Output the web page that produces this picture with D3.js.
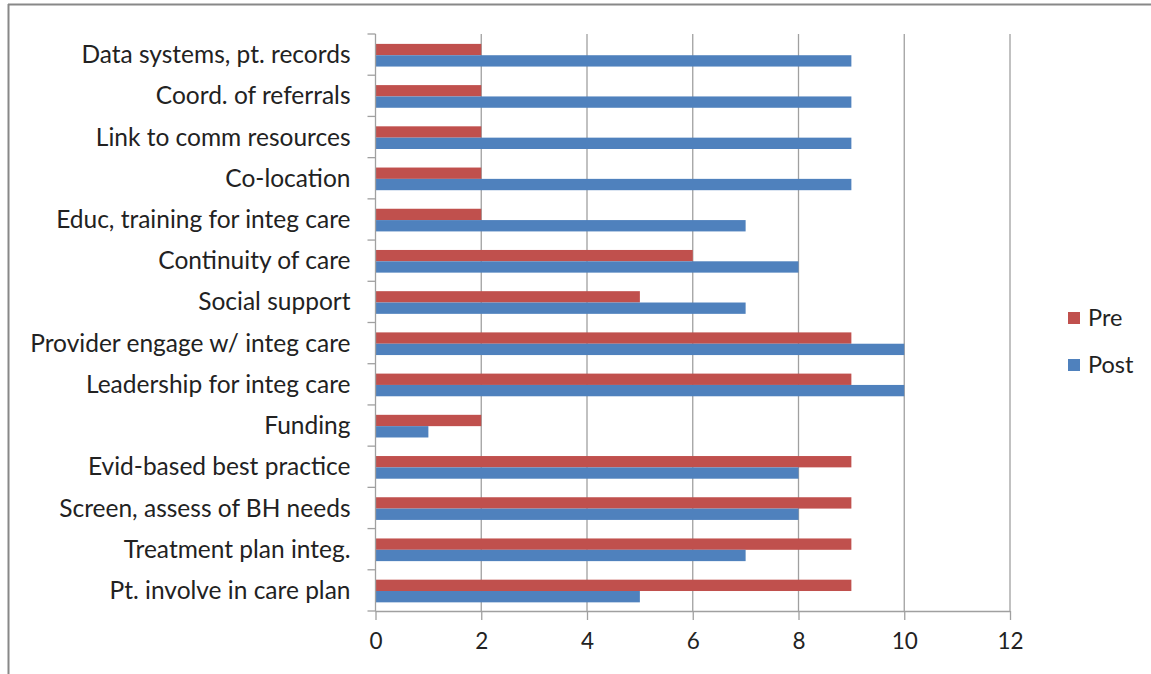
<!DOCTYPE html>
<html><head><meta charset="utf-8">
<script src="https://cdn.jsdelivr.net/npm/d3@7"></script>
<style>body{margin:0;background:#fff}svg{display:block}</style>
</head><body>
<svg id="c" width="1151" height="674"></svg>
<script>
const categories = ["Data systems, pt. records","Coord. of referrals","Link to comm resources","Co-location","Educ, training for integ care","Continuity of care","Social support","Provider engage w/ integ care","Leadership for integ care","Funding","Evid-based best practice","Screen, assess of BH needs","Treatment plan integ.","Pt. involve in care plan"];
const preValues  = [2,2,2,2,2,6,5,9,9,2,9,9,9,9];
const postValues = [9,9,9,9,7,8,7,10,10,1,8,8,7,5];
const seriesNames = ["Pre","Post"];
const xTicks = [0,2,4,6,8,10,12];
const colors = {Pre:"#C0504D", Post:"#4F81BD"};
const font = "Lato, 'Open Sans', sans-serif";

(function(){
const svg = d3.select("#c");
svg.append("line").attr("x1",8).attr("x2",1151).attr("y1",4.5).attr("y2",4.5).attr("stroke","#888").attr("stroke-width",2);
svg.append("line").attr("x1",8.5).attr("x2",8.5).attr("y1",4).attr("y2",674).attr("stroke","#888").attr("stroke-width",2);

const pL=375.5, pR=1010, pT=34, pB=611;
const x = d3.scaleLinear().domain([0,12]).range([pL,pR]);
const y = d3.scaleBand().domain(categories).range([pT,pB]);
const inner = d3.scaleBand().domain(seriesNames).range([y.bandwidth()*0.24, y.bandwidth()*0.79]);

svg.append("g").selectAll("line").data(xTicks.slice(1)).join("line")
  .attr("x1",d=>x(d)).attr("x2",d=>x(d)).attr("y1",pT).attr("y2",pB)
  .attr("stroke","#a0a0a0").attr("stroke-width",1.3);

const data = categories.map((c,i)=>({c, Pre:preValues[i], Post:postValues[i]}));
const g = svg.append("g");
seriesNames.forEach(s=>{
  g.selectAll("rect."+s).data(data).join("rect").attr("class",s)
    .attr("x",x(0)).attr("y",d=>y(d.c)+inner(s))
    .attr("width",d=>x(d[s])-x(0)).attr("height",inner.bandwidth())
    .attr("fill",colors[s]);
});

const xa = svg.append("g").attr("transform",`translate(0,${pB})`)
  .call(d3.axisBottom(x).tickValues(xTicks).tickSize(9).tickPadding(13));
xa.select(".domain").attr("stroke","#a0a0a0").attr("stroke-width",1.3).attr("d",`M${pL},0.5H${pR}`);
xa.selectAll(".tick line").attr("stroke","#a0a0a0").attr("stroke-width",1.3);
xa.selectAll("text").attr("font-family",font).attr("font-size",22.5).attr("fill","#222");

const ya = svg.append("g").attr("transform",`translate(${pL},0)`);
ya.append("line").attr("x1",0).attr("x2",0).attr("y1",pT).attr("y2",pB).attr("stroke","#a0a0a0").attr("stroke-width",1.3);
const bounds = categories.map(c=>y(c)).concat([pB]);
ya.selectAll("line.t").data(bounds).join("line").attr("class","t")
  .attr("x1",-8).attr("x2",0).attr("y1",d=>d).attr("y2",d=>d).attr("stroke","#a0a0a0").attr("stroke-width",1.3);
ya.selectAll("text").data(categories).join("text")
  .attr("x",-25).attr("y",d=>y(d)+y.bandwidth()/2).attr("dy","0.35em")
  .attr("text-anchor","end").attr("font-family",font).attr("font-size",24.5).attr("fill","#222")
  .text(d=>d);

const lg = svg.append("g");
seriesNames.forEach((s,i)=>{
  const yy = 312 + i*47;
  lg.append("rect").attr("x",1068).attr("y",yy).attr("width",12).attr("height",12).attr("fill",colors[s]);
  lg.append("text").attr("x",1088).attr("y",yy+6).attr("dy","0.35em").attr("font-family",font).attr("font-size",23.5).attr("fill","#222").text(s);
});
})();
</script>
</body></html>
